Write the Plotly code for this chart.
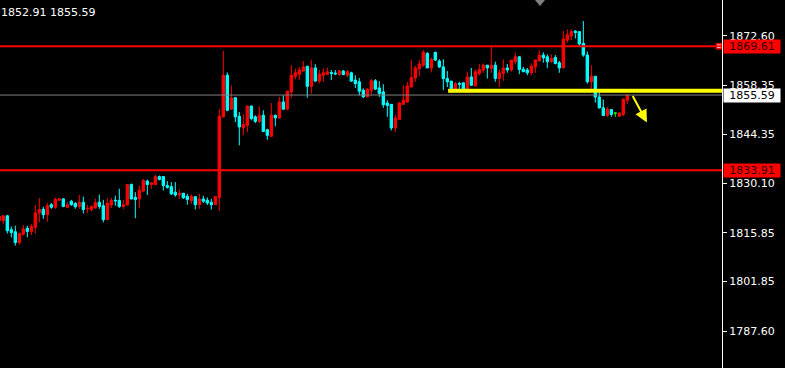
import plotly.graph_objects as go

# ---- data ----
bar_index = list(range(-1, 157))
opens = [1819.4, 1819.4, 1820.8, 1816.8, 1816.2, 1813.1, 1815.5, 1817.2, 1816.3, 1817.5,
         1821.6, 1822.7, 1821.1, 1824.0, 1823.25, 1825.3, 1825.66, 1823.25, 1825.0, 1824.4,
         1823.5, 1824.7, 1822.8, 1822.6, 1823.05, 1824.7, 1823.7, 1819.7, 1823.9, 1825.3,
         1825.2, 1823.5, 1823.9, 1829.8, 1826.1, 1825.66, 1827.9, 1830.8, 1829.8, 1829.8,
         1832.1, 1832.1, 1829.5, 1829.2, 1827.6, 1826.8, 1827.3, 1826.4, 1825.2, 1826.3,
         1824.0, 1825.66, 1825.3, 1824.7, 1824.0, 1826.1, 1849.3, 1861.3, 1851.5, 1854.8,
         1849.45, 1846.2, 1846.9, 1852.4, 1849.3, 1848.0, 1849.75, 1845.6, 1843.7, 1849.75,
         1849.0, 1853.6, 1851.5, 1856.5, 1861.0, 1861.6, 1862.5, 1863.9, 1858.1, 1863.4,
         1859.6, 1861.3, 1861.6, 1862.1, 1861.9, 1861.5, 1862.5, 1861.3, 1862.0, 1859.9,
         1859.4, 1857.0, 1855.05, 1857.0, 1859.7, 1857.65, 1856.5, 1853.3, 1852.9, 1846.1,
         1848.6, 1852.9, 1853.6, 1857.9, 1860.5, 1863.2, 1864.2, 1867.6, 1863.4, 1867.9,
         1865.4, 1863.7, 1860.35, 1859.6, 1857.3, 1858.9, 1859.1, 1857.0, 1860.8, 1858.2,
         1861.8, 1862.8, 1864.2, 1863.25, 1864.2, 1860.35, 1861.8, 1863.4, 1862.8, 1865.2,
         1866.6, 1863.05, 1862.8, 1862.0, 1863.7, 1865.45, 1867.1, 1866.6, 1865.2, 1866.4,
         1864.9, 1863.4, 1871.4, 1872.6, 1874.0, 1873.85, 1870.5, 1867.1, 1859.4, 1861.0,
         1855.0, 1851.9, 1849.7, 1851.4, 1850.4, 1849.5, 1850.0, 1854.1]
highs = [1820.7, 1820.8, 1821.0, 1817.7, 1817.95, 1816.0, 1818.1, 1817.95, 1818.4, 1823.9,
         1825.9, 1823.4, 1824.5, 1824.5, 1826.1, 1826.0, 1825.9, 1824.7, 1825.4, 1824.7,
         1826.8, 1826.3, 1824.0, 1823.7, 1825.75, 1826.9, 1825.4, 1825.85, 1826.0, 1826.6,
         1828.6, 1825.4, 1829.8, 1830.1, 1827.6, 1829.5, 1831.4, 1831.2, 1830.5, 1832.7,
         1832.4, 1832.1, 1830.8, 1830.5, 1830.5, 1828.4, 1827.3, 1827.1, 1826.9, 1826.3,
         1827.2, 1826.6, 1826.1, 1825.66, 1826.3, 1851.5, 1868.3, 1862.1, 1858.4, 1855.05,
         1850.7, 1850.0, 1852.6, 1852.6, 1849.75, 1852.35, 1851.2, 1845.9, 1853.3, 1850.0,
         1855.05, 1855.5, 1856.7, 1864.2, 1863.25, 1863.7, 1865.4, 1863.9, 1865.65, 1864.5,
         1862.8, 1863.25, 1863.5, 1862.8, 1862.8, 1862.8, 1862.8, 1862.8, 1862.3, 1861.3,
         1860.5, 1857.5, 1857.5, 1860.2, 1860.2, 1859.6, 1858.7, 1854.1, 1852.9, 1849.9,
         1853.6, 1858.4, 1859.4, 1865.65, 1864.0, 1865.65, 1868.5, 1867.9, 1866.3, 1868.1,
         1865.9, 1865.9, 1862.5, 1859.6, 1859.4, 1859.4, 1859.1, 1862.3, 1863.4, 1862.95,
         1864.5, 1864.7, 1864.2, 1869.5, 1865.2, 1862.95, 1865.85, 1864.5, 1865.65, 1867.8,
         1866.8, 1863.7, 1863.4, 1864.7, 1865.85, 1868.5, 1867.9, 1867.3, 1867.3, 1867.1,
         1865.45, 1874.0, 1874.5, 1874.5, 1874.3, 1873.85, 1876.9, 1868.1, 1864.2, 1861.0,
         1856.3, 1854.3, 1852.2, 1851.4, 1850.5, 1850.7, 1854.6, 1855.7]
lows = [1819.2, 1818.4, 1815.7, 1814.6, 1812.2, 1812.5, 1815.05, 1814.6, 1815.2, 1815.7,
        1818.9, 1819.9, 1819.1, 1822.8, 1822.8, 1825.0, 1823.25, 1823.05, 1823.7, 1822.8,
        1822.8, 1821.5, 1821.6, 1822.1, 1822.8, 1822.8, 1818.9, 1819.7, 1823.05, 1823.7,
        1823.05, 1822.8, 1823.9, 1825.5, 1820.1, 1822.95, 1827.6, 1826.8, 1828.6, 1829.8,
        1831.0, 1828.1, 1828.6, 1826.8, 1826.3, 1825.66, 1825.66, 1824.0, 1824.2, 1822.6,
        1822.8, 1824.5, 1823.9, 1822.6, 1824.0, 1822.2, 1849.1, 1850.9, 1851.5, 1847.8,
        1841.1, 1844.0, 1844.9, 1848.3, 1847.5, 1847.5, 1844.9, 1842.7, 1843.5, 1846.6,
        1848.8, 1851.5, 1851.2, 1854.8, 1860.1, 1859.9, 1862.3, 1854.8, 1856.0, 1859.4,
        1858.9, 1859.4, 1861.3, 1859.9, 1861.3, 1861.1, 1861.3, 1860.8, 1859.4, 1857.65,
        1855.5, 1854.8, 1855.05, 1855.5, 1857.0, 1855.05, 1851.9, 1849.3, 1845.4, 1844.9,
        1848.6, 1852.9, 1853.3, 1857.9, 1859.4, 1861.1, 1863.7, 1863.4, 1862.1, 1865.4,
        1863.4, 1857.0, 1857.9, 1856.3, 1857.3, 1857.0, 1857.0, 1856.2, 1858.2, 1858.2,
        1861.3, 1862.0, 1860.35, 1862.0, 1859.4, 1857.9, 1859.7, 1862.0, 1862.3, 1864.5,
        1861.6, 1862.3, 1861.3, 1861.3, 1862.0, 1865.2, 1864.9, 1863.4, 1864.9, 1864.4,
        1862.0, 1863.4, 1870.7, 1871.4, 1871.9, 1869.5, 1866.6, 1858.9, 1856.5, 1853.4,
        1851.7, 1849.5, 1849.3, 1849.3, 1849.3, 1849.3, 1849.5, 1852.91]
closes = [1820.6, 1820.8, 1816.5, 1816.0, 1813.1, 1815.7, 1817.0, 1816.3, 1817.7, 1821.6,
          1822.6, 1821.1, 1823.7, 1823.25, 1825.5, 1825.66, 1823.5, 1824.0, 1824.0, 1823.4,
          1824.7, 1822.6, 1822.95, 1823.5, 1824.6, 1823.5, 1819.7, 1824.4, 1825.2, 1825.1,
          1823.5, 1824.0, 1829.8, 1825.66, 1825.5, 1828.1, 1831.0, 1829.8, 1830.3, 1832.1,
          1831.25, 1829.5, 1829.0, 1827.1, 1826.8, 1827.3, 1826.0, 1825.5, 1826.4, 1824.0,
          1825.66, 1825.0, 1824.5, 1824.0, 1826.3, 1849.5, 1861.3, 1851.2, 1854.8, 1849.3,
          1846.4, 1847.1, 1852.4, 1848.8, 1848.0, 1849.75, 1845.1, 1843.97, 1849.75, 1849.0,
          1853.6, 1851.5, 1856.7, 1861.3, 1862.0, 1862.8, 1863.7, 1858.1, 1863.4, 1859.6,
          1861.6, 1862.0, 1862.3, 1861.8, 1861.7, 1862.5, 1861.5, 1862.3, 1859.6, 1858.9,
          1856.7, 1855.05, 1857.3, 1859.7, 1857.3, 1856.0, 1852.8, 1852.6, 1846.1, 1849.0,
          1853.3, 1854.1, 1858.2, 1860.6, 1863.4, 1864.5, 1867.9, 1863.4, 1865.9, 1865.65,
          1863.7, 1860.35, 1859.4, 1857.5, 1858.9, 1858.7, 1857.0, 1860.8, 1858.4, 1862.3,
          1862.95, 1864.2, 1863.4, 1864.2, 1860.35, 1862.0, 1863.4, 1862.8, 1865.65, 1866.6,
          1862.95, 1862.3, 1862.0, 1863.9, 1865.65, 1867.1, 1866.3, 1865.2, 1866.1, 1864.7,
          1863.4, 1871.7, 1872.9, 1873.85, 1873.6, 1870.3, 1867.1, 1859.4, 1861.0, 1855.0,
          1851.9, 1849.7, 1851.5, 1850.0, 1850.4, 1850.4, 1854.4, 1855.59]

tick_values = [1872.60, 1858.35, 1844.35, 1830.10, 1815.85, 1801.85, 1787.60]
tick_labels = ["1872.60", "1858.35", "1844.35", "1830.10", "1815.85", "1801.85", "1787.60"]

resistance_level = 1869.61
support_level = 1833.91
bid_level = 1855.59
trend_level = 1856.85
trend_start = 111.2
header_text = "1852.91 1855.59"

FONT = "DejaVu Sans"

# split doji bars (open == close) into their own trace
reg = [k for k in range(len(bar_index)) if opens[k] != closes[k]]
doji = [k for k in range(len(bar_index)) if opens[k] == closes[k]]

def pick(arr, idx):
    return [arr[k] for k in idx]

fig = go.Figure()
fig.add_trace(go.Candlestick(
    x=pick(bar_index, reg), open=pick(opens, reg), high=pick(highs, reg),
    low=pick(lows, reg), close=pick(closes, reg),
    increasing=dict(line=dict(color="#FF0000", width=1), fillcolor="#FF0000"),
    decreasing=dict(line=dict(color="#00FFFF", width=1), fillcolor="#00FFFF"),
    whiskerwidth=0, showlegend=False, hoverinfo="skip"))
if doji:
    fig.add_trace(go.Candlestick(
        x=pick(bar_index, doji), open=pick(opens, doji), high=pick(highs, doji),
        low=pick(lows, doji), close=pick(closes, doji),
        increasing=dict(line=dict(color="#00FF00", width=1), fillcolor="#00FF00"),
        decreasing=dict(line=dict(color="#00FF00", width=1), fillcolor="#00FF00"),
        whiskerwidth=0, showlegend=False, hoverinfo="skip"))

# selected-object marker at right end of resistance line
fig.add_trace(go.Scatter(x=[178.9], y=[resistance_level], mode="markers",
                         marker=dict(symbol="square", size=5, color="white",
                                     line=dict(color="#FF0000", width=1.5)),
                         showlegend=False, hoverinfo="skip"))

shapes = [
    dict(type="line", xref="paper", x0=0, x1=1, yref="y", y0=bid_level, y1=bid_level,
         line=dict(color="#808080", width=1)),
    dict(type="line", xref="paper", x0=0, x1=1, yref="y", y0=resistance_level, y1=resistance_level,
         line=dict(color="#FF0000", width=2)),
    dict(type="line", xref="paper", x0=0, x1=1, yref="y", y0=support_level, y1=support_level,
         line=dict(color="#FF0000", width=2)),
    dict(type="line", xref="x", x0=trend_start, x1=182, yref="y", y0=trend_level, y1=trend_level,
         line=dict(color="#FFFF00", width=4)),
    dict(type="path", xref="paper", yref="paper",
         path="M 0.7410 1 L 0.7548 1 L 0.7479 0.984 Z",
         fillcolor="#808080", line=dict(color="#808080", width=0)),
]

annotations = [
    dict(x=0, y=1, xref="paper", yref="paper", xanchor="left", yanchor="top",
         xshift=-1, yshift=-4, text=header_text, showarrow=False,
         font=dict(family=FONT, size=11, color="white")),
    dict(x=1, y=resistance_level, xref="paper", yref="y", xanchor="left", yanchor="middle",
         xshift=1, text=f"{resistance_level:.2f}", showarrow=False, bgcolor="#FF0000",
         width=54, height=11, borderpad=1,
         font=dict(family=FONT, size=11, color="#300000")),
    dict(x=1, y=support_level, xref="paper", yref="y", xanchor="left", yanchor="middle",
         xshift=1, text=f"{support_level:.2f}", showarrow=False, bgcolor="#FF0000",
         width=54, height=11, borderpad=1,
         font=dict(family=FONT, size=11, color="#300000")),
    dict(x=1, y=bid_level, xref="paper", yref="y", xanchor="left", yanchor="middle",
         xshift=1, text=f"{bid_level:.2f}", showarrow=False, bgcolor="#FFFFFF",
         width=54, height=11, borderpad=1,
         font=dict(family=FONT, size=11, color="#000000")),
    dict(x=160.9, y=1847.7, xref="x", yref="y", ax=-15, ay=-28, text="",
         showarrow=True, arrowhead=2, arrowsize=1.25, arrowwidth=2, arrowcolor="#FFFF00"),
]

fig.update_layout(
    width=785, height=368,
    margin=dict(l=0, r=63, t=0, b=0),
    paper_bgcolor="#000000", plot_bgcolor="#000000",
    boxgap=0.4, boxgroupgap=0,
    shapes=shapes, annotations=annotations,
    showlegend=False,
    xaxis=dict(range=[-0.83, 179.67], rangeslider=dict(visible=False),
               showgrid=False, zeroline=False, showticklabels=False, ticks="",
               side="top", showline=True, linecolor="#FFFFFF", linewidth=1),
    yaxis=dict(range=[1776.95, 1882.97], side="right", showgrid=False, zeroline=False,
               tickvals=tick_values, ticktext=tick_labels, ticks="outside", ticklen=4,
               tickcolor="#FFFFFF", tickwidth=1, showline=True, linecolor="#FFFFFF",
               linewidth=1, tickfont=dict(family=FONT, size=11, color="#FFFFFF")),
)

fig.write_html("out.html")
